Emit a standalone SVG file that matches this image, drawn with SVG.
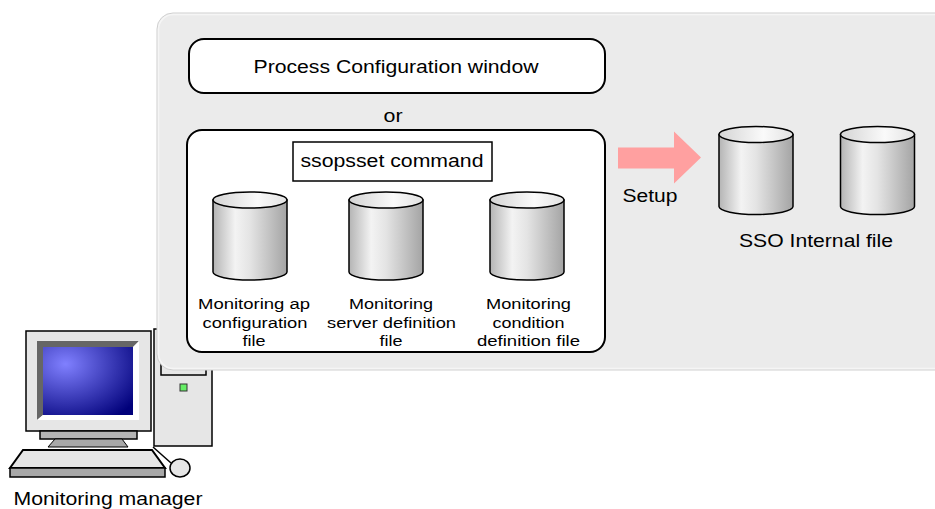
<svg xmlns="http://www.w3.org/2000/svg" width="935" height="509" viewBox="0 0 935 509">
  <style>
    text { font-family: "Liberation Sans", Arial, sans-serif; fill: #000; text-anchor: middle; }
    .big { font-size: 17.5px; }
    .small { font-size: 15.5px; }
    .box { fill: #fff; stroke: #000; stroke-width: 2; }
    .cyl-body { fill: url(#cylBody); stroke: #000; stroke-width: 1.5; }
    .cyl-top { fill: url(#cylTop); stroke: #000; stroke-width: 1.5; }
    .pc { fill: #e6e6e6; stroke: #000; stroke-width: 1.5; }
  </style>
  <defs>
    <linearGradient id="cylBody" x1="0" y1="0" x2="1" y2="0">
      <stop offset="0" stop-color="#b4b4b4"/>
      <stop offset="0.3" stop-color="#f3f3f3"/>
      <stop offset="0.5" stop-color="#e4e4e4"/>
      <stop offset="1" stop-color="#a4a4a4"/>
    </linearGradient>
    <linearGradient id="cylTop" x1="0" y1="0" x2="1" y2="0">
      <stop offset="0" stop-color="#d4d4d4"/>
      <stop offset="0.6" stop-color="#fafafa"/>
      <stop offset="1" stop-color="#e2e2e2"/>
    </linearGradient>
    <radialGradient id="screen" cx="0.25" cy="0.25" r="0.95">
      <stop offset="0" stop-color="#8080ff"/>
      <stop offset="1" stop-color="#00007a"/>
    </radialGradient>
    <g id="cylinder">
      <path class="cyl-body" d="M-37,0 V72 A37 8 0 0 0 37,72 V0 Z"/>
      <ellipse class="cyl-top" cx="0" cy="0" rx="37" ry="8"/>
    </g>
  </defs>

  <rect width="935" height="509" fill="#fff"/>

  <!-- Monitoring manager workstation -->
  <g id="monitoring-manager">
    <!-- tower -->
    <rect class="pc" x="154" y="329" width="58" height="117"/>
    <rect class="pc" x="161" y="336" width="45" height="39" stroke-width="1"/>
    <rect x="180" y="384" width="7" height="7" fill="#66ee66" stroke="#333" stroke-width="1"/>
    <!-- monitor -->
    <rect class="pc" x="26" y="331" width="125" height="100"/>
    <polygon points="37,341 139,341 133,347 43,347 43,415 37,420" fill="#666"/>
    <polygon points="139,341 139,420 37,420 43,415 133,415 133,347" fill="#fff"/>
    <rect x="43" y="347" width="90" height="68" fill="url(#screen)"/>
    <rect x="40" y="431" width="97" height="8" fill="#b4b4b4" stroke="#000" stroke-width="1.5"/>
    <polygon points="55,439 122,439 128,447 48,447" fill="#a8a8a8" stroke="#000" stroke-width="1"/>
    <!-- keyboard -->
    <polygon points="23,450 152,450 165,468 10,468" fill="#e6e6e6" stroke="#000" stroke-width="2"/>
    <rect x="10" y="468" width="155" height="9" fill="#a8a8a8" stroke="#000" stroke-width="1.5"/>
    <!-- mouse -->
    <path d="M153,447 L171,463" fill="none" stroke="#000" stroke-width="1.5"/>
    <ellipse class="pc" cx="180" cy="468" rx="10" ry="9"/>
    <text class="big" x="108" y="505" textLength="189" lengthAdjust="spacingAndGlyphs">Monitoring manager</text>
  </g>

  <!-- shaded area of the setup process -->
  <g id="setup-area">
    <rect x="157" y="13" width="800" height="357" rx="16" fill="#ebebeb" stroke="#cfcfcf" stroke-width="1"/>
    <rect x="158.5" y="14.5" width="797" height="354" rx="15" fill="none" stroke="#f5f5f5" stroke-width="1.5"/>
  </g>

  <g id="process-configuration-window">
    <rect class="box" x="189" y="39" width="416" height="54" rx="15"/>
    <text class="big" x="396" y="73" textLength="285" lengthAdjust="spacingAndGlyphs">Process Configuration window</text>
  </g>

  <g id="or-label">
    <text class="big" x="393" y="122" textLength="19" lengthAdjust="spacingAndGlyphs">or</text>
  </g>

  <g id="ssopsset-command">
    <rect class="box" x="187" y="130" width="418" height="222" rx="15"/>
    <rect x="293" y="142" width="199" height="39" fill="#fff" stroke="#000" stroke-width="1.5"/>
    <text class="big" x="392" y="167" textLength="183" lengthAdjust="spacingAndGlyphs">ssopsset command</text>
  </g>

  <g id="ap-config-file">
    <use href="#cylinder" transform="translate(250,200)"/>
    <text class="small" x="254" y="309" textLength="112" lengthAdjust="spacingAndGlyphs">Monitoring ap</text>
    <text class="small" x="255" y="328" textLength="105" lengthAdjust="spacingAndGlyphs">configuration</text>
    <text class="small" x="254" y="346" textLength="23" lengthAdjust="spacingAndGlyphs">file</text>
  </g>

  <g id="server-definition-file">
    <use href="#cylinder" transform="translate(386,200)"/>
    <text class="small" x="391" y="309" textLength="84" lengthAdjust="spacingAndGlyphs">Monitoring</text>
    <text class="small" x="391.5" y="328" textLength="129" lengthAdjust="spacingAndGlyphs">server definition</text>
    <text class="small" x="391" y="346" textLength="23" lengthAdjust="spacingAndGlyphs">file</text>
  </g>

  <g id="condition-definition-file">
    <use href="#cylinder" transform="translate(527,200)"/>
    <text class="small" x="528.5" y="309" textLength="85" lengthAdjust="spacingAndGlyphs">Monitoring</text>
    <text class="small" x="528.5" y="328" textLength="72" lengthAdjust="spacingAndGlyphs">condition</text>
    <text class="small" x="528.5" y="346" textLength="103" lengthAdjust="spacingAndGlyphs">definition file</text>
  </g>

  <g id="sso-internal-file">
    <use href="#cylinder" transform="translate(756,134.5)"/>
    <use href="#cylinder" transform="translate(877.5,134.5)"/>
    <text class="big" x="816" y="247" textLength="154" lengthAdjust="spacingAndGlyphs">SSO Internal file</text>
  </g>

  <g id="connectors">
    <polygon points="618,147.5 674,147.5 674,131.5 701,157.5 674,183.5 674,168.5 618,168.5" fill="#ffa0a0"/>
    <text class="big" x="650" y="202" textLength="55" lengthAdjust="spacingAndGlyphs">Setup</text>
  </g>
</svg>
